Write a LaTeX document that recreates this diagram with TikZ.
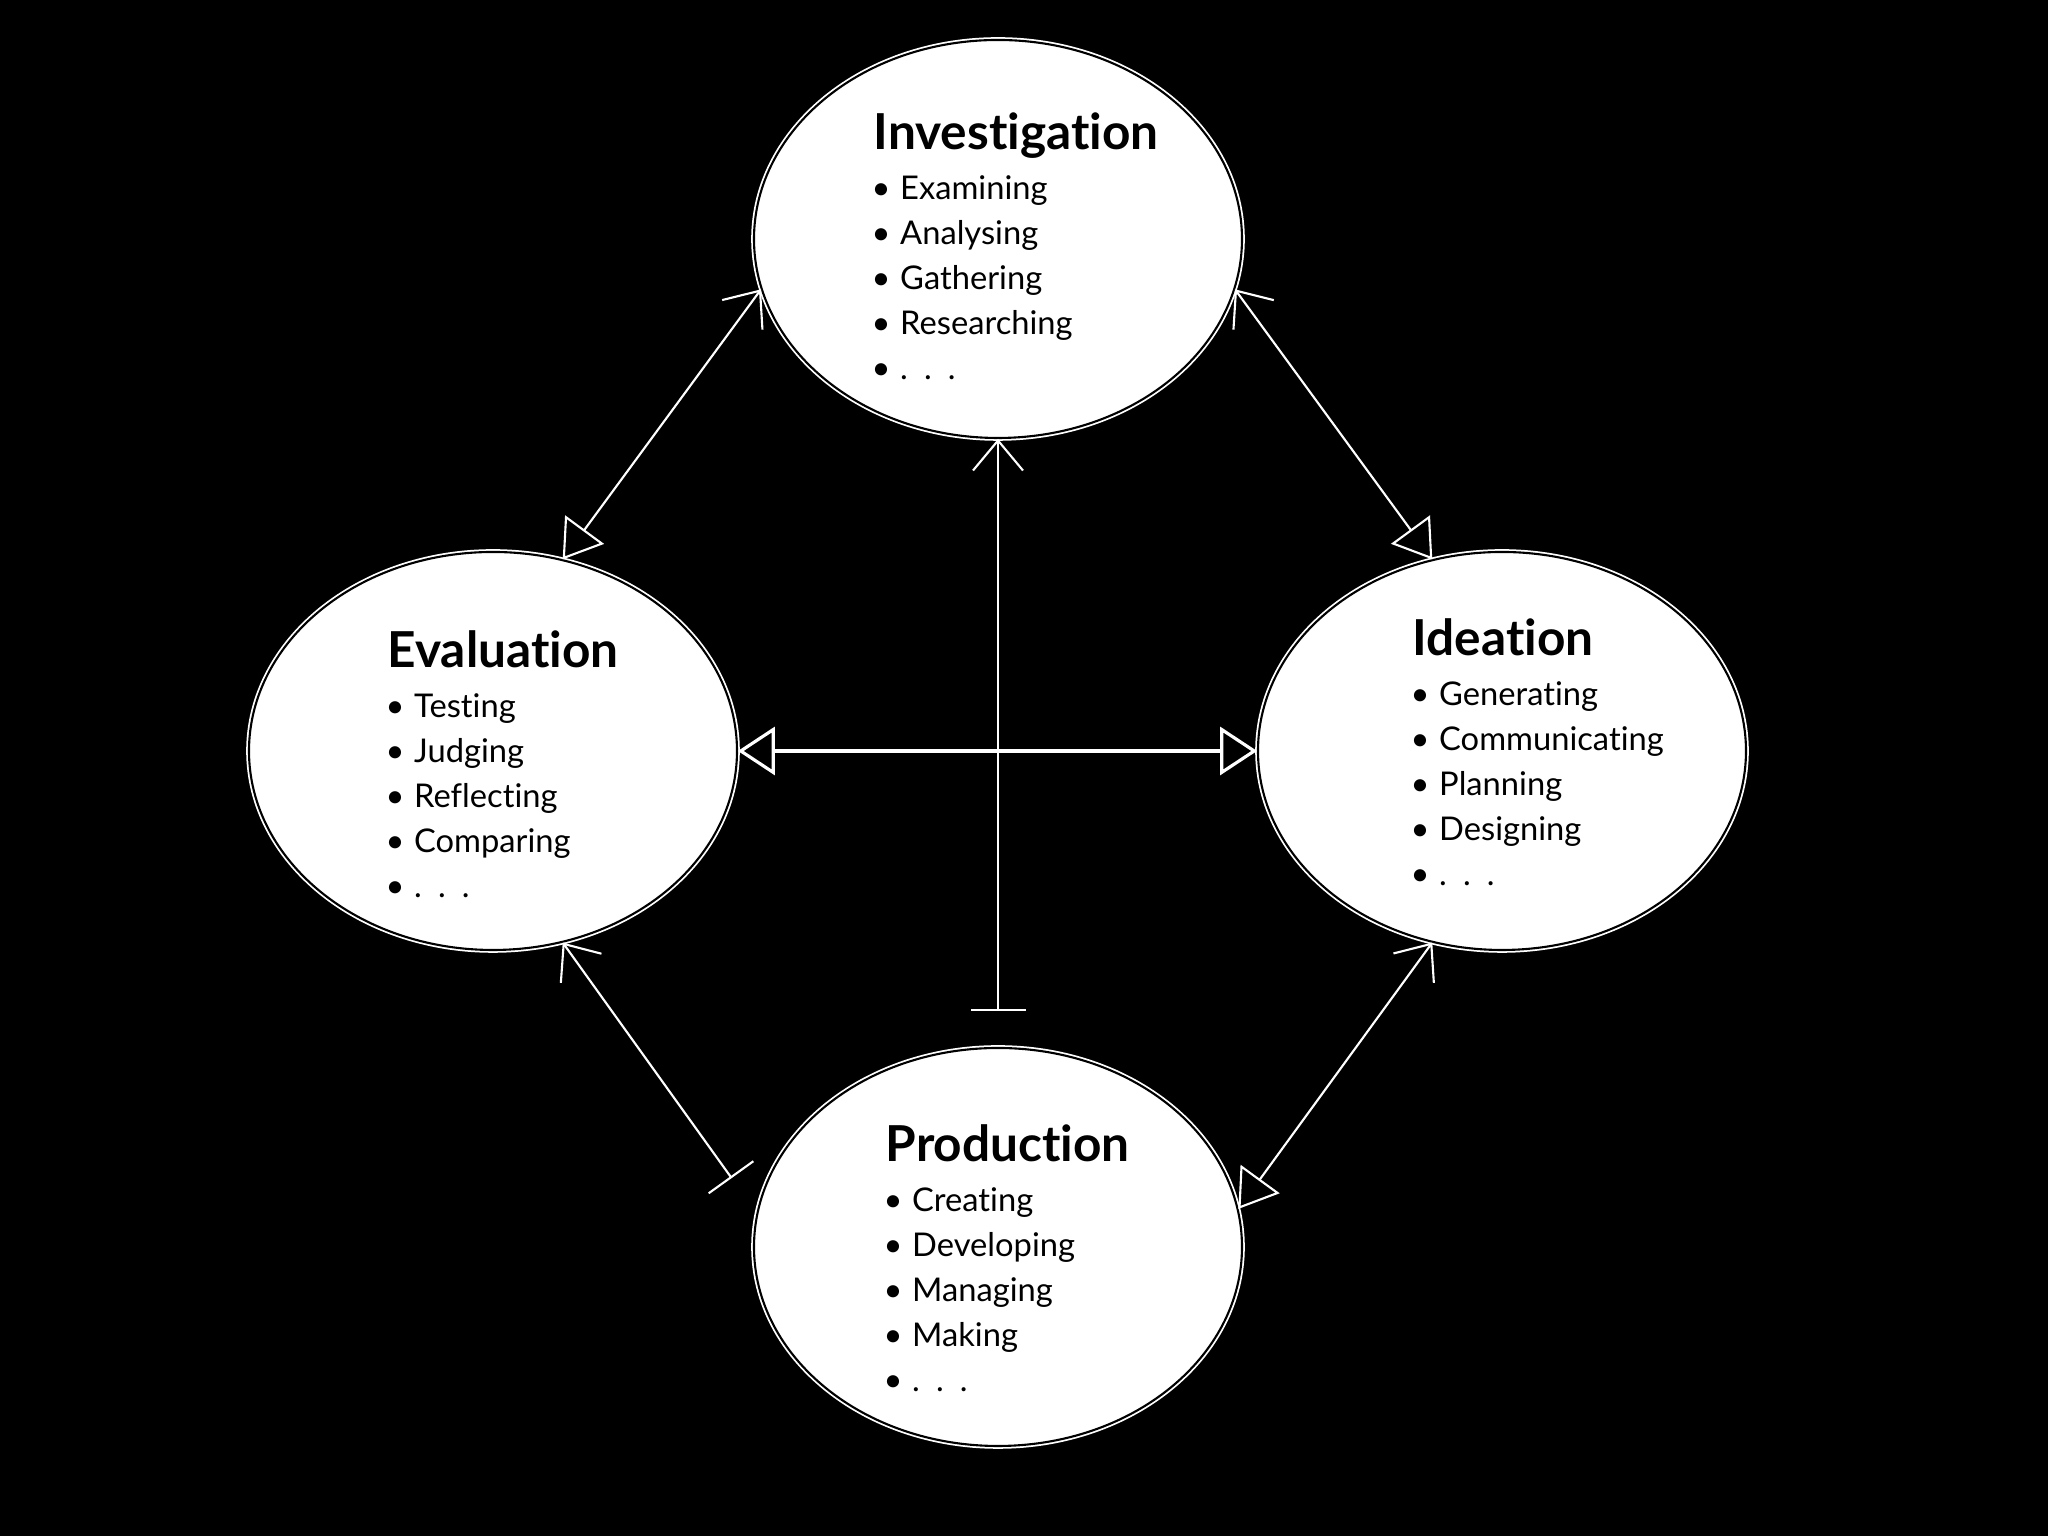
\documentclass[tikz,border=0pt]{standalone}
\usepackage{fontspec}
\setmainfont{Lato}[Ligatures=NoCommon]
\usetikzlibrary{arrows.meta,shapes.geometric}
\newcommand{\itm}[1]{\hspace*{-0.2mm}\makebox[2.85mm][l]{\textbullet}#1}
\newcommand{\phasetitle}[1]{{\fontsize{14.1}{15}\selectfont\bfseries #1}}
\newcommand{\etcdots}{.\hspace{4.6pt}.\hspace{4.6pt}.}

\tikzset{
  openvee/.tip={Straight Barb[length=3mm,width=5mm]},
  opentri/.tip={Triangle[open,length=3.7mm,width=4.8mm]},
  tailbar/.tip={Bar[width=5.5mm]},
}

\begin{document}
\begin{tikzpicture}[
  phase/.style={ellipse,fill=white,draw=white,double=black,double distance=0.6pt,
                line width=0.5pt,minimum width=4.88cm,minimum height=3.98cm,inner sep=0pt},
  items/.style={anchor=north west,align=left,inner sep=0pt,text=black,
                font=\fontsize{9.3}{12.8}\selectfont},
  link/.style={draw=white,line width=0.6pt},
]
\fill[black] (0,0) rectangle (20.48,15.36);
\useasboundingbox (0,0) rectangle (20.48,15.36);

% the four phases
\node[phase] (inv)  at (9.98,12.97) {};
\node[phase] (eval) at (4.93,7.85) {};
\node[phase] (ide)  at (15.02,7.85) {};
\node[phase] (prod) at (9.98,2.89) {};

\node[items] (invtxt) at (8.73,14.24)
  {\phasetitle{Investigation}\\[1.5pt]
   \itm{Examining}\\ \itm{Analysing}\\ \itm{Gathering}\\ \itm{Researching}\\ \itm{\etcdots}};
\node[items] (evaltxt) at (3.87,9.06)
  {\phasetitle{Evaluation}\\[1.5pt]
   \itm{Testing}\\ \itm{Judging}\\ \itm{Reflecting}\\ \itm{Comparing}\\ \itm{\etcdots}};
\node[items] (idetxt) at (14.12,9.18)
  {\phasetitle{Ideation}\\[1.5pt]
   \itm{Generating}\\ \itm{Communicating}\\ \itm{Planning}\\ \itm{Designing}\\ \itm{\etcdots}};
\node[items] (prodtxt) at (8.85,4.12)
  {\phasetitle{Production}\\[1.5pt]
   \itm{Creating}\\ \itm{Developing}\\ \itm{Managing}\\ \itm{Making}\\ \itm{\etcdots}};

% connectors
\draw[link,{openvee}-{opentri}] (inv.192) -- (eval.70);
\draw[link,{openvee}-{opentri}] (inv.348) -- (ide.110);
\draw[link,line width=0.9pt,{opentri}-{opentri}] (eval.east) -- (ide.west);
\draw[link,{tailbar}-{openvee},shorten <=3.6mm] (prod.north) -- (inv.south);
\draw[link,{tailbar}-{openvee},shorten <=4.3mm] (prod.172) -- (eval.290);
\draw[link,{opentri}-{openvee}] (prod.9) -- (ide.250);
\end{tikzpicture}
\end{document}
